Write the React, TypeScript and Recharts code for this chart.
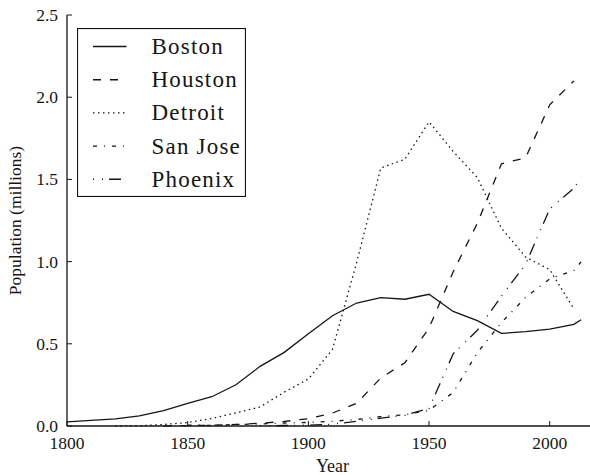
import { LineChart, Line, XAxis, YAxis, Legend } from "recharts";

const years = [
  1800, 1810, 1820, 1830, 1840, 1850, 1860, 1870, 1880, 1890, 1900, 1910,
  1920, 1930, 1940, 1950, 1960, 1970, 1980, 1990, 2000, 2010, 2013,
];

// population in millions
const boston = [
  0.025, 0.034, 0.043, 0.061, 0.093, 0.137, 0.178, 0.251, 0.363, 0.448, 0.561,
  0.671, 0.748, 0.781, 0.771, 0.801, 0.697, 0.641, 0.563, 0.574, 0.589, 0.618,
  0.646,
];
const houston = [
  null, null, null, null, 0.001, 0.0024, 0.0048, 0.0094, 0.0166, 0.0276, 0.0446,
  0.0788, 0.138, 0.292, 0.385, 0.596, 0.938, 1.233, 1.595, 1.631, 1.954, 2.099,
  null,
];
const detroit = [
  null, null, 0.0014, 0.0022, 0.009, 0.021, 0.046, 0.08, 0.116, 0.206, 0.286,
  0.466, 0.994, 1.569, 1.623, 1.85, 1.67, 1.511, 1.203, 1.028, 0.951, 0.714,
  null,
];
const sanJose = [
  null, null, null, null, null, 0.0048, 0.0041, 0.0092, 0.0126, 0.0183, 0.0215,
  0.0287, 0.0396, 0.0576, 0.0685, 0.0952, 0.204, 0.446, 0.629, 0.782, 0.895,
  0.946, 0.998,
];
const phoenix = [
  null, null, null, null, null, null, null, null, 0.0019, 0.0031, 0.0055, 0.011,
  0.029, 0.048, 0.065, 0.107, 0.439, 0.582, 0.79, 0.983, 1.321, 1.446, 1.513,
];

const xTicks = [1800, 1850, 1900, 1950, 2000];
const yTicks = [0, 0.5, 1, 1.5, 2, 2.5];

const series = [
  { key: "Boston", values: boston, dash: undefined },
  { key: "Houston", values: houston, dash: "8 9" },
  { key: "Detroit", values: detroit, dash: "1.5 3.5" },
  { key: "San Jose", values: sanJose, dash: "4 7 1 7" },
  { key: "Phoenix", values: phoenix, dash: "1 8 1 6 12 6" },
];

const data = years.map((year, i) => {
  const row: Record<string, number | null> = { year };
  series.forEach((s) => (row[s.key] = s.values[i]));
  return row;
});

const ink = "#151515";
const font = "Liberation Serif";

const BottomTick = (props: any) => {
  const { x, y, payload } = props;
  return (
    <g>
      <line x1={x} y1={y} x2={x} y2={y - 5} stroke={ink} strokeWidth={1} />
      <text x={x} y={y + 23} textAnchor="middle" fill={ink} fontSize={17.5} fontFamily={font}>
        {payload.value}
      </text>
    </g>
  );
};

const TopTick = (props: any) => {
  const { x, y } = props;
  return <line x1={x} y1={y} x2={x} y2={y + 5} stroke={ink} strokeWidth={1} />;
};

const LeftTick = (props: any) => {
  const { x, y, payload } = props;
  return (
    <g>
      <line x1={x} y1={y} x2={x + 5} y2={y} stroke={ink} strokeWidth={1} />
      <text x={x - 9} y={y + 6} textAnchor="end" fill={ink} fontSize={17.5} fontFamily={font}>
        {payload.value.toFixed(1)}
      </text>
    </g>
  );
};

const LegendBox = () => (
  <svg width={169} height={169} style={{ display: "block" }}>
    <rect x={0.5} y={0.5} width={168} height={168} fill="#fff" stroke={ink} strokeWidth={1.2} />
    {series.map((s, i) => {
      const cy = 18.5 + i * 33.2;
      return (
        <g key={s.key}>
          <line x1={16} y1={cy} x2={49.5} y2={cy} stroke={ink} strokeWidth={1.4} strokeDasharray={s.dash} />
          <text x={74.5} y={cy + 7.5} fill={ink} fontSize={23} letterSpacing={1.2} fontFamily={font}>
            {s.key}
          </text>
        </g>
      );
    })}
  </svg>
);

export default function App() {
  return (
    <div
      style={{
        position: "fixed",
        left: 0,
        top: 0,
        width: 590,
        height: 475,
        overflow: "hidden",
        background: "#fff",
      }}>
      <LineChart
        width={610}
        height={475}
        data={data}
        margin={{ top: 15, right: 12, left: 0, bottom: 0 }}
        style={{ fontFamily: font }}>
        <XAxis
          dataKey="year"
          type="number"
          domain={[1800, 2020]}
          ticks={xTicks}
          height={49}
          tickSize={0}
          tickMargin={0}
          tickLine={false}
          tick={<BottomTick />}
          axisLine={{ stroke: ink, strokeWidth: 1.3 }}
          label={{
            value: "Year",
            position: "insideBottom",
            offset: 3,
            fill: ink,
            fontSize: 18,
            fontFamily: font,
          }}
        />
        <XAxis
          xAxisId="top"
          orientation="top"
          dataKey="year"
          type="number"
          domain={[1800, 2020]}
          ticks={xTicks}
          height={0}
          tickSize={0}
          tickMargin={0}
          tickLine={false}
          tick={<TopTick />}
          axisLine={{ stroke: ink, strokeWidth: 1.3 }}
        />
        <YAxis
          type="number"
          domain={[0, 2.5]}
          ticks={yTicks}
          width={67}
          tickSize={0}
          tickMargin={0}
          tickLine={false}
          tick={<LeftTick />}
          axisLine={{ stroke: ink, strokeWidth: 1.3 }}
          label={{
            value: "Population (millions)",
            angle: -90,
            position: "insideLeft",
            offset: 15,
            fill: ink,
            fontSize: 17.5,
            fontFamily: font,
            style: { textAnchor: "middle" },
          }}
        />
        <Legend
          layout="vertical"
          align="center"
          verticalAlign="middle"
          content={<LegendBox />}
          wrapperStyle={{ left: 77, top: 28, width: 169, height: 169 }}
        />
        {series.map((s) => (
          <Line
            key={s.key}
            dataKey={s.key}
            type="linear"
            stroke={ink}
            strokeWidth={1.3}
            strokeDasharray={s.dash}
            dot={false}
            activeDot={false}
            connectNulls={false}
            isAnimationActive={false}
          />
        ))}
      </LineChart>
    </div>
  );
}
